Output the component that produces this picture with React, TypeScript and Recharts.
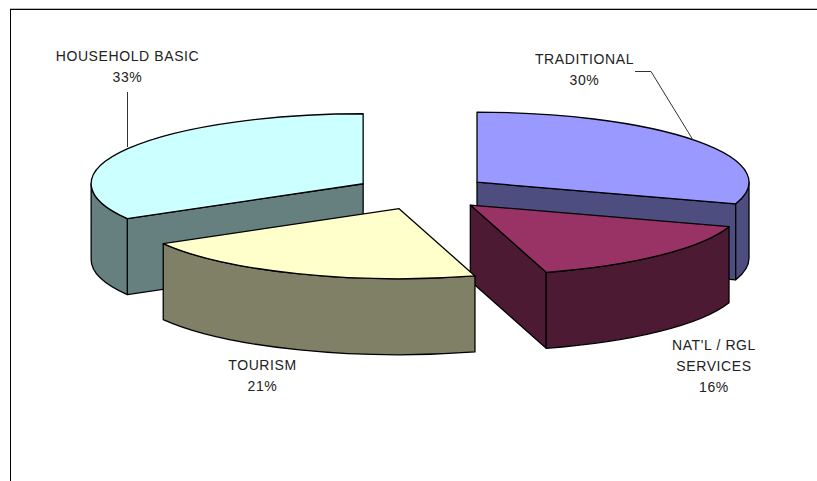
import React from 'react';
import { PieChart, Pie } from 'recharts';

const categories = ['HOUSEHOLD BASIC', 'TRADITIONAL', "NAT'L / RGL SERVICES", 'TOURISM'];
const shares = [33.3, 30, 15.5, 21.2];
const topColors = ['#CCFFFF', '#9999FF', '#993366', '#FFFFCC'];
const wallColors = ['#668080', '#4D4D80', '#4D1A33', '#808066'];
const labelLines = [['HOUSEHOLD BASIC'], ['TRADITIONAL'], ["NAT'L / RGL", 'SERVICES'], ['TOURISM']];

const data = categories.map((name, i) => ({ name, value: shares[i], top: topColors[i], wall: wallColors[i] }));

// Layout (projection of the flat pie into the tilted view)
const W = 817;
const H = 481;
const CX = 422;
const CY = 192.5;
const RX = 272;
const SQUASH = 70 / 272;
const DEPTH = 76;
const EXPLODE = 0.25;
const START = -150.12;
const sliceNudgeX = [0, 0, 1, 2.5];
const FONT = '"Liberation Sans", Arial, sans-serif';
const labelAnchors = [
  { x: 127.5, y: 61 },
  { x: 584.5, y: 64 },
  { x: 714, y: 350 },
  { x: 262.5, y: 370 },
];
const LINE_GAP = 21;
const leaderLines = ['127.5,92 127.5,147', '635,71.5 651,71.5 693,140', '', ''];

const rad = (d: number) => (d * Math.PI) / 180;

function Slice3D(props: any) {
  const { cx, cy, outerRadius, startAngle, endAngle, payload, index } = props;
  const rx = outerRadius;
  const ry = outerRadius * SQUASH;
  const s = 90 - startAngle;
  const e = 90 - endAngle;
  const mid = (s + e) / 2;
  const slot = index ?? categories.indexOf(payload.name);
  const ax = cx + EXPLODE * rx * Math.sin(rad(mid)) + sliceNudgeX[slot];
  const ay = cy - EXPLODE * ry * Math.cos(rad(mid));
  const px = (t: number) => ax + rx * Math.sin(rad(t));
  const py = (t: number) => ay - ry * Math.cos(rad(t));
  const stroke = { stroke: '#000', strokeWidth: 1.3, strokeLinejoin: 'round' as const };

  const quad = (t: number) =>
    `M${ax},${ay} L${px(t)},${py(t)} L${px(t)},${py(t) + DEPTH} L${ax},${ay + DEPTH} Z`;

  const fronts: string[] = [];
  for (const k of [-360, 0, 360]) {
    const a = Math.max(s, 90 + k);
    const b = Math.min(e, 270 + k);
    if (b > a) {
      fronts.push(
        `M${px(a)},${py(a)} A${rx},${ry} 0 0 1 ${px(b)},${py(b)} L${px(b)},${py(b) + DEPTH} A${rx},${ry} 0 0 0 ${px(a)},${py(a) + DEPTH} Z`,
      );
    }
  }
  const large = e - s > 180 ? 1 : 0;
  const topPath = `M${ax},${ay} L${px(s)},${py(s)} A${rx},${ry} 0 ${large} 1 ${px(e)},${py(e)} Z`;

  return (
    <g>
      {Math.sin(rad(s)) < -0.01 && <path d={quad(s)} fill={payload.wall} {...stroke} />}
      {Math.sin(rad(e)) > 0.01 && <path d={quad(e)} fill={payload.wall} {...stroke} />}
      {fronts.map((d) => (
        <path key={d} d={d} fill={payload.wall} {...stroke} />
      ))}
      <path d={topPath} fill={payload.top} {...stroke} />
    </g>
  );
}

function SliceLabel(props: any) {
  const { index, percent } = props;
  const lines = [...labelLines[index], `${Math.round(percent * 100)}%`];
  const at = labelAnchors[index];
  return (
    <g>
      {leaderLines[index] && <polyline points={leaderLines[index]} fill="none" stroke="#333" strokeWidth={1} />}
      {lines.map((t, i) => (
        <text
          key={t}
          x={at.x}
          y={at.y + i * LINE_GAP}
          textAnchor="middle"
          fontFamily={FONT}
          fontSize={14}
          letterSpacing={0.6}
          fill="#222"
        >
          {t}
        </text>
      ))}
    </g>
  );
}

export default function App() {
  return (
    <div style={{ position: 'absolute', left: 0, top: 0, width: W, height: H, background: '#fff', overflow: 'hidden' }}>
      <div style={{ position: 'absolute', left: 10, top: 8, right: 0, bottom: 0, borderTop: '1px solid #bbb' }} />
      <div style={{ position: 'absolute', left: 10, top: 9, right: 0, bottom: 0, borderTop: '1.5px solid #000', borderLeft: '1.5px solid #000' }} />
      <div style={{ position: 'absolute', left: 0, top: 0 }}>
        <PieChart width={W} height={H} margin={{ top: 0, right: 0, bottom: 0, left: 0 }}>
          <Pie
            data={data}
            dataKey="value"
            nameKey="name"
            cx={CX}
            cy={CY}
            innerRadius={0}
            outerRadius={RX}
            startAngle={START}
            endAngle={START - 360}
            paddingAngle={0}
            shape={Slice3D}
            label={SliceLabel}
            labelLine={false}
            isAnimationActive={false}
          />
        </PieChart>
      </div>
    </div>
  );
}
